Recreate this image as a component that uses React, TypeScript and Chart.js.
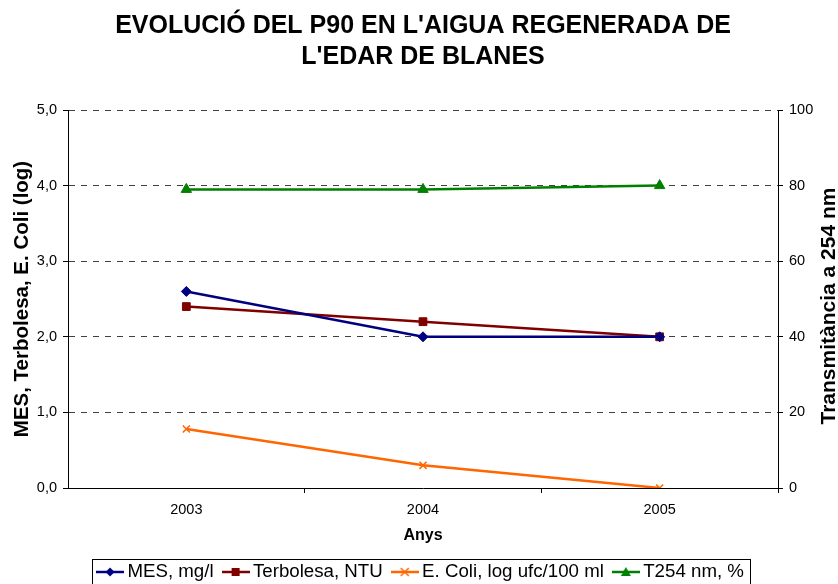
import React, { useEffect, useRef } from 'react';
import { Chart, registerables } from 'chart.js';

Chart.register(...registerables);

const FONT = "'Liberation Sans', Arial, sans-serif";

const years = ['2003', '2004', '2005'];
const mesValues = [2.6, 2.0, 2.0];
const terbolesaValues = [2.4, 2.2, 2.0];
const eColiValues = [0.78, 0.3, 0.0];
const t254Values = [79, 79, 80];
const seriesNames = ['MES, mg/l', 'Terbolesa, NTU', 'E. Coli, log ufc/100 ml', 'T254 nm, %'];
const seriesColors = ['#000080', '#800000', '#FF6600', '#008000'];
const chartTitle = ["EVOLUCIÓ DEL P90 EN L'AIGUA REGENERADA DE", "L'EDAR DE BLANES"];
const leftAxisTitle = 'MES, Terbolesa, E. Coli (log)';
const rightAxisTitle = 'Transmitància a 254 nm';
const xAxisTitle = 'Anys';

function makeSymbol(color: string, shape: string): HTMLCanvasElement {
  const c = document.createElement('canvas');
  c.width = 28;
  c.height = 14;
  const g = c.getContext('2d')!;
  g.strokeStyle = color;
  g.fillStyle = color;
  g.lineWidth = 2.5;
  g.beginPath();
  g.moveTo(0, 7);
  g.lineTo(28, 7);
  g.stroke();
  const cx = 14;
  const cy = 7;
  g.lineWidth = 1.5;
  g.beginPath();
  if (shape === 'diamond') {
    g.moveTo(cx, cy - 4.5);
    g.lineTo(cx + 4.5, cy);
    g.lineTo(cx, cy + 4.5);
    g.lineTo(cx - 4.5, cy);
    g.closePath();
    g.fill();
  } else if (shape === 'square') {
    g.fillRect(cx - 4, cy - 4, 8, 8);
  } else if (shape === 'x') {
    g.moveTo(cx - 4, cy - 4);
    g.lineTo(cx + 4, cy + 4);
    g.moveTo(cx + 4, cy - 4);
    g.lineTo(cx - 4, cy + 4);
    g.stroke();
  } else {
    g.moveTo(cx, cy - 5);
    g.lineTo(cx + 5, cy + 4);
    g.lineTo(cx - 5, cy + 4);
    g.closePath();
    g.fill();
  }
  return c;
}

export default function App() {
  const ref = useRef<HTMLCanvasElement>(null);

  useEffect(() => {
    if (!ref.current) return;
    const symbols = [
      makeSymbol(seriesColors[0], 'diamond'),
      makeSymbol(seriesColors[1], 'square'),
      makeSymbol(seriesColors[2], 'x'),
      makeSymbol(seriesColors[3], 'triangle'),
    ];

    const decorPlugin = {
      id: 'decor',
      afterDraw(chart: any) {
        const ctx = chart.ctx;
        const legend = chart.legend;
        if (legend && legend.legendHitBoxes && legend.legendHitBoxes.length) {
          const hb = legend.legendHitBoxes;
          const first = hb[0];
          const last = hb[hb.length - 1];
          const cy = first.top + first.height / 2;
          const left = Math.round(first.left - 10) + 0.5;
          const right = Math.round(last.left + last.width + 6) + 0.5;
          const top = Math.round(cy - 13) + 0.5;
          ctx.save();
          ctx.strokeStyle = '#000';
          ctx.lineWidth = 1;
          ctx.strokeRect(left, top, right - left, 30);
          ctx.restore();
        }
        const area = chart.chartArea;
        ctx.save();
        ctx.translate(chart.width - 9, (area.top + area.bottom) / 2 + 7);
        ctx.rotate(-Math.PI / 2);
        ctx.font = `bold 21px ${FONT}`;
        ctx.fillStyle = '#000';
        ctx.textAlign = 'center';
        ctx.textBaseline = 'middle';
        ctx.fillText(rightAxisTitle, 0, 0);
        ctx.restore();
      },
    };

    const chart = new Chart(ref.current, {
      type: 'line',
      data: {
        labels: years,
        datasets: [
          {
            label: seriesNames[0],
            data: mesValues,
            yAxisID: 'y',
            borderColor: seriesColors[0],
            backgroundColor: seriesColors[0],
            borderWidth: 2.5,
            pointStyle: 'rectRot',
            pointRadius: 5,
            pointBorderWidth: 1,
            tension: 0,
          },
          {
            label: seriesNames[1],
            data: terbolesaValues,
            yAxisID: 'y',
            borderColor: seriesColors[1],
            backgroundColor: seriesColors[1],
            borderWidth: 2.5,
            pointStyle: 'rect',
            pointRadius: 5.5,
            pointBorderWidth: 1,
            tension: 0,
          },
          {
            label: seriesNames[2],
            data: eColiValues,
            yAxisID: 'y',
            borderColor: seriesColors[2],
            backgroundColor: seriesColors[2],
            borderWidth: 2.5,
            pointStyle: 'crossRot',
            pointRadius: 5,
            pointBorderWidth: 1.5,
            tension: 0,
          },
          {
            label: seriesNames[3],
            data: t254Values,
            yAxisID: 'y1',
            borderColor: seriesColors[3],
            backgroundColor: seriesColors[3],
            borderWidth: 2.5,
            pointStyle: 'triangle',
            pointRadius: 6,
            pointBorderWidth: 1,
            tension: 0,
          },
        ],
      },
      options: {
        responsive: false,
        animation: false,
        devicePixelRatio: 1,
        layout: { padding: { left: 8, right: 0, top: 0, bottom: -7.35 } },
        plugins: {
          title: {
            display: true,
            text: chartTitle,
            color: '#000',
            font: { family: FONT, size: 25, weight: 'bold', lineHeight: 1.23 },
            padding: { top: 10.6, bottom: 37.9 },
          },
          legend: {
            display: true,
            position: 'bottom',
            labels: {
              usePointStyle: true,
              pointStyleWidth: 16,
              padding: 14,
              color: '#000',
              font: { family: FONT, size: 18.7 },
              generateLabels: (c: any) => {
                const items = (Chart.defaults.plugins.legend.labels as any).generateLabels(c);
                items.forEach((it: any, i: number) => {
                  it.pointStyle = symbols[i];
                });
                return items;
              },
            },
          },
          tooltip: { enabled: false },
        },
        scales: {
          x: {
            type: 'category',
            offset: true,
            grid: {
              offset: true,
              drawOnChartArea: false,
              drawTicks: true,
              tickLength: 5,
              tickColor: (ctx: any) => (ctx.index === 0 || ctx.index === years.length ? 'rgba(0,0,0,0)' : '#000'),
            },
            border: { display: true, color: '#000', width: 1 },
            ticks: { color: '#000', padding: 7.8, font: { family: FONT, size: 14.5 }, maxRotation: 0 },
            title: {
              display: true,
              text: xAxisTitle,
              color: '#000',
              font: { family: FONT, size: 16, weight: 'bold', lineHeight: 1.2 },
              padding: { top: 0, bottom: 3.5 },
            },
            afterFit: (scale: any) => {
              scale.height = 60.65;
            },
          },
          y: {
            type: 'linear',
            position: 'left',
            min: 0,
            max: 5,
            ticks: {
              stepSize: 1,
              color: '#000',
              padding: 6,
              font: { family: FONT, size: 14.5 },
              callback: (v: any) => Number(v).toFixed(1).replace('.', ','),
            },
            grid: {
              color: (ctx: any) => (ctx.tick && ctx.tick.value === 0 ? 'rgba(0,0,0,0)' : '#404040'),
              lineWidth: 1,
              tickLength: 5,
              tickColor: '#000',
              tickBorderDash: [],
            },
            border: { display: true, color: '#000', width: 1, dash: [6, 6] },
            title: {
              display: true,
              text: leftAxisTitle,
              color: '#000',
              font: { family: FONT, size: 20.5, weight: 'bold', lineHeight: 1.2 },
              padding: { top: 2.5, bottom: 0 },
            },
            afterFit: (scale: any) => {
              scale.width = 60;
            },
          },
          y1: {
            type: 'linear',
            position: 'right',
            min: 0,
            max: 100,
            ticks: {
              stepSize: 20,
              color: '#000',
              padding: 6,
              font: { family: FONT, size: 14.5 },
            },
            grid: {
              drawOnChartArea: false,
              tickLength: 5,
              tickColor: '#000',
            },
            border: { display: true, color: '#000', width: 1 },
            afterFit: (scale: any) => {
              scale.width = 60;
            },
          },
        },
      },
      plugins: [decorPlugin],
    } as any);

    return () => chart.destroy();
  }, []);

  return (
    <div style={{ position: 'absolute', left: 0, top: 0, width: 838, height: 584, background: '#fff' }}>
      <canvas ref={ref} width={838} height={584} style={{ display: 'block' }} />
    </div>
  );
}
